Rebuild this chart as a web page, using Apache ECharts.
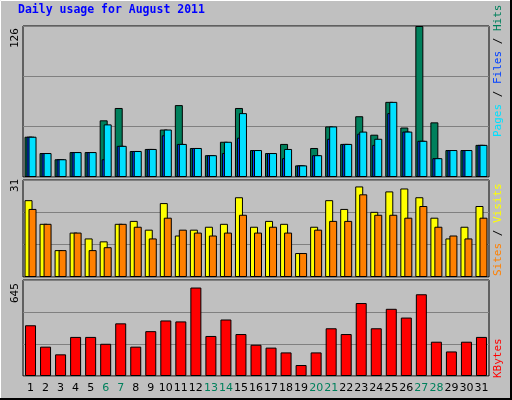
<!DOCTYPE html>
<html><head><meta charset="utf-8">
<script src="https://cdn.jsdelivr.net/npm/echarts@6/dist/echarts.min.js"></script>
<style>html,body{margin:0;padding:0;background:#c0c0c0}#c{width:512px;height:400px}</style>
</head><body><div id="c"></div>
<script>
const days = Array.from({length:31},(_,i)=>String(i+1));
const weekend = ['6','7','13','14','20','21','27','28'];
const hits  = [33.6,20,14.8,20.8,20.8,47.3,57.6,21.7,23.4,39.6,60,24.2,18.2,29.4,57.6,22.5,20,27.6,9.7,24.2,42.2,27.6,50.7,35.3,62.7,41.3,126,45.6,22.5,22.5,26.8];
const files = [33.6,20,14.8,20.8,20.8,14.8,26,21.7,23.4,34.8,27.6,24.2,18.2,20,32.8,22.5,20,15.7,9.7,18.2,31.9,27.6,36.2,26.8,53.3,37.9,30.2,15.7,22.5,22.5,26.8];
const pages = [33.6,20,14.8,20.8,20.8,43.9,26,21.7,23.4,39.6,27.6,24.2,18.2,29.4,53.3,22.5,20,23.4,9.7,18.2,42.2,27.6,37.9,31.9,62.7,37.9,30.2,15.7,22.5,22.5,26.8];
const visits = [26.3,18.2,9.2,15.2,13.2,12.2,18.2,19.2,16.2,25.3,14.2,16.2,17.2,18.2,27.3,17.2,19.2,18.2,8.2,17.2,26.3,23.3,31,22.3,29.3,30.3,27.3,20.3,13.2,17.2,24.3];
const sites  = [23.3,18.2,9.2,15.2,9.2,10.2,18.2,17.2,13.2,20.3,16.2,15.2,14.2,15.2,21.3,15.2,17.2,15.2,8.2,16.2,19.2,19.2,28.3,21.3,21.3,20.3,24.3,17.2,14.2,13.2,20.3];
const kbytes = [370,214,158,285,285,235,384,214,327,405,398,645,292,412,306,228,207,172,80,172,348,306,532,348,490,426,596,250,179,250,285];
const scaleLabels = ['126','31','645'];

const grids = [{top:26,height:151},{top:180,height:97},{top:280,height:96}];
const ymax = [126,33.2,700];
const bs = {borderColor:'#000',borderWidth:1};
const chart = echarts.init(document.getElementById('c'));
chart.setOption({
  backgroundColor:'#c0c0c0',
  animation:false,
  grid: grids.map(g=>({left:23,width:466,top:g.top,height:g.height,show:true,backgroundColor:'#c0c0c0',borderColor:'#000',borderWidth:1})),
  xAxis: grids.map((g,i)=>({type:'category',data:days,gridIndex:i,
    axisLine:{show:false},axisTick:{show:false},
    axisLabel:{show:i===2,interval:0,margin:7,fontFamily:'DejaVu Sans',fontSize:11,
      color:(v)=>weekend.includes(v)?'#00805c':'#000'}})),
  yAxis: grids.map((g,i)=>({type:'value',gridIndex:i,min:0,max:ymax[i],interval:ymax[i]/3,
    axisLabel:{show:false},axisLine:{show:false},axisTick:{show:false},
    splitLine:{lineStyle:{color:'#808080',width:1}}})),
  series:[
    {type:'bar',data:hits,xAxisIndex:0,yAxisIndex:0,barWidth:8,barGap:'-75%',itemStyle:{color:'#00805c',...bs}},
    {type:'bar',data:files,xAxisIndex:0,yAxisIndex:0,barWidth:8,barGap:'-75%',itemStyle:{color:'#0040ff',...bs}},
    {type:'bar',data:pages,xAxisIndex:0,yAxisIndex:0,barWidth:8,barGap:'-75%',itemStyle:{color:'#00e0ff',...bs}},
    {type:'bar',data:visits,xAxisIndex:1,yAxisIndex:1,barWidth:8,barGap:'-50%',itemStyle:{color:'#ffff00',...bs}},
    {type:'bar',data:sites,xAxisIndex:1,yAxisIndex:1,barWidth:8,barGap:'-50%',itemStyle:{color:'#ff8000',...bs}},
    {type:'bar',data:kbytes,xAxisIndex:2,yAxisIndex:2,barWidth:11,itemStyle:{color:'#ff0000',...bs}}
  ],
  graphic:[
    {type:'rect',shape:{x:0.5,y:0.5,width:511,height:399},style:{fill:'none',stroke:'#ffffff',lineWidth:1},z:-1},
    {type:'polyline',shape:{points:[[511,0],[511,399],[0,399]]},style:{stroke:'#000',fill:'none',lineWidth:2}},
    {type:'text',x:18,y:4,style:{text:'Daily usage for August 2011',fill:'#0000ff',font:'bold 11.5px "DejaVu Sans Mono"'}},
    {type:'text',x:10,y:48,rotation:Math.PI/2,style:{text:scaleLabels[0],fill:'#000',font:'11px "DejaVu Sans Mono"'}},
    {type:'text',x:10,y:192,rotation:Math.PI/2,style:{text:scaleLabels[1],fill:'#000',font:'11px "DejaVu Sans Mono"'}},
    {type:'text',x:10,y:303,rotation:Math.PI/2,style:{text:scaleLabels[2],fill:'#000',font:'11px "DejaVu Sans Mono"'}},
    {type:'text',x:493,y:137,rotation:Math.PI/2,style:{text:'{a|Pages}{b| / }{c|Files}{b| / }{d|Hits}',font:'11px "DejaVu Sans Mono"',
      rich:{a:{fill:'#00e0ff',font:'11px "DejaVu Sans Mono"'},b:{fill:'#000',font:'11px "DejaVu Sans Mono"'},c:{fill:'#0040ff',font:'11px "DejaVu Sans Mono"'},d:{fill:'#00805c',font:'11px "DejaVu Sans Mono"'}}}},
    {type:'text',x:493,y:276,rotation:Math.PI/2,style:{text:'{a|Sites}{b| / }{c|Visits}',font:'11px "DejaVu Sans Mono"',
      rich:{a:{fill:'#ff8000',font:'11px "DejaVu Sans Mono"'},b:{fill:'#000',font:'11px "DejaVu Sans Mono"'},c:{fill:'#ffff00',font:'11px "DejaVu Sans Mono"'}}}},
    {type:'text',x:493,y:378,rotation:Math.PI/2,style:{text:'KBytes',fill:'#ff0000',font:'11px "DejaVu Sans Mono"'}}
  ]
});
</script></body></html>
